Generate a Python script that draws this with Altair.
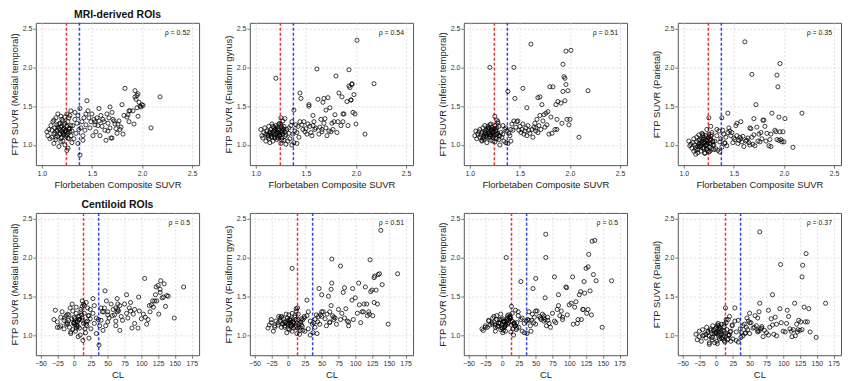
import altair as alt
import pandas as pd

# ---- per-subject data: Florbetaben composite SUVR, Centiloid, and FTP SUVR in four ROIs ----
suvr = [2.18, 2.09, 2.01, 1.96, 1.93, 1.94, 1.61, 1.20, 1.44, 1.80, 1.68, 1.38, 1.25, 1.53, 1.45,
        1.70, 1.72, 1.73, 1.74, 1.75, 1.76, 1.77, 1.78, 1.79, 1.81, 1.82, 1.83, 1.85, 1.86, 1.87,
        1.87, 1.88, 1.91, 1.92, 1.93, 1.95, 1.95, 1.96, 1.97, 1.98, 1.99, 2.00,
        1.46, 1.47, 1.48, 1.49, 1.50, 1.51, 1.52, 1.53, 1.54, 1.55, 1.56, 1.57, 1.58, 1.59, 1.60,
        1.62, 1.63, 1.64, 1.65, 1.66, 1.67, 1.68, 1.69, 1.70, 1.71, 1.66, 1.57,
        1.30, 1.31, 1.32, 1.33, 1.34, 1.35, 1.36, 1.37, 1.38, 1.39, 1.40, 1.41, 1.42, 1.43, 1.44,
        1.36, 1.33, 1.41,
        1.05, 1.06, 1.07, 1.08, 1.09, 1.10, 1.10, 1.11, 1.12, 1.12, 1.13, 1.13, 1.14, 1.14, 1.15,
        1.15, 1.16, 1.16, 1.17, 1.17, 1.18, 1.18, 1.19, 1.19, 1.20, 1.20, 1.21, 1.21, 1.22, 1.22,
        1.23, 1.23, 1.24, 1.24, 1.25, 1.25, 1.26, 1.26, 1.27, 1.27, 1.28, 1.28, 1.29, 1.29, 1.30,
        1.18, 1.15, 1.20, 1.22, 1.24, 1.26, 1.17, 1.19, 1.21, 1.23, 1.25, 1.27, 1.16, 1.14, 1.12,
        1.28, 1.29, 1.27, 1.23, 1.19, 1.26, 1.22, 1.21]
centiloid = [163, 149, 138, 134, 129, 128, 65, 6, 65, 78, 96, 28, 14, 50, 46,
             95, 84, 88, 100, 90, 103, 97, 110, 106, 108, 112, 105, 118, 115, 120,
             113, 117, 123, 126, 122, 131, 125, 136, 128, 140, 133, 121,
             48, 40, 52, 44, 55, 47, 58, 60, 50, 62, 57, 66, 62, 68, 70,
             64, 72, 68, 75, 78, 82, 80, 86, 84, 90, 62, 64,
             20, 22, 25, 24, 30, 28, 33, 36, 37, 33, 42, 38, 45, 40, 50,
             30, 18, 43,
             -25, -20, -30, -15, -12, -22, -8, -18, -10, -5, -14, 0, -6, -2, 2,
             -8, 4, -3, 1, 6, -1, 3, 8, 0, 5, 10, 2, 7, 4, 11,
             9, 3, 12, 6, 13, 8, 14, 10, 16, 12, 18, 15, 19, 21, 17,
             -12, -15, -7, -4, 0, 3, -10, -5, -2, 5, 1, 8, -20, -25, -28,
             24, 12, 20, 15, 12, 22, 18, -10]
mesial = [1.62, 1.22, 1.51, 1.66, 1.70, 1.59, 1.33, 1.24, 1.40, 1.52, 1.49, 1.47, 1.40, 1.30, 1.57,
          1.09, 1.31, 1.27, 1.21, 1.15, 1.27, 1.31, 1.20, 1.23, 1.14, 1.38, 1.73, 1.36, 1.39, 1.44,
          1.30, 1.44, 1.44, 1.27, 1.62, 1.48, 1.64, 1.37, 1.55, 1.50, 1.49, 1.52,
          1.44, 1.35, 1.22, 1.30, 1.40, 1.12, 1.33, 1.26, 1.17, 1.35, 1.25, 1.31, 1.12, 1.38, 1.24,
          1.30, 1.19, 1.06, 1.40, 1.28, 1.35, 1.22, 1.09, 1.42, 1.33, 1.18, 1.47,
          1.18, 1.25, 1.08, 1.33, 1.15, 1.28, 1.02, 1.20, 0.87, 1.22, 1.30, 1.12, 1.35, 1.19, 1.26,
          1.38, 1.42, 1.06,
          1.17, 1.12, 1.20, 1.08, 1.25, 1.10, 1.19, 1.30, 1.14, 1.02, 1.22, 1.16, 1.35, 1.07, 1.18,
          1.26, 1.11, 1.40, 1.21, 0.98, 1.15, 1.28, 1.09, 1.23, 1.17, 1.33, 1.05, 1.20, 1.13, 1.26,
          1.00, 1.36, 1.19, 1.11, 0.93, 1.24, 1.15, 1.30, 1.08, 1.22, 1.17, 1.38, 1.12, 1.25, 1.03,
          1.14, 1.19, 1.10, 1.21, 1.16, 1.09, 1.27, 1.04, 1.31, 1.18, 1.13, 1.20, 1.23, 1.10, 1.32,
          1.21, 1.44, 1.35, 1.28, 1.37, 0.96, 1.14, 1.16]
fusiform = [1.79, 1.14, 2.35, 1.78, 1.76, 1.74, 1.98, 1.86, 1.67, 1.89, 1.60, 1.45, 1.35, 1.52, 1.60,
            1.45, 1.61, 1.18, 1.48, 1.17, 1.28, 1.20, 1.30, 1.39, 1.16, 1.30, 1.67, 1.25, 1.62, 1.30,
            1.40, 1.40, 1.56, 1.25, 1.97, 1.58, 1.58, 1.79, 1.42, 1.65, 1.40, 1.27,
            1.26, 1.20, 1.30, 1.17, 1.21, 1.14, 1.27, 1.50, 1.24, 1.16, 1.12, 1.25, 1.30, 1.20, 1.22,
            1.59, 1.14, 1.23, 1.33, 1.20, 1.55, 1.28, 1.34, 1.22, 1.12, 1.17, 1.38,
            1.13, 1.20, 1.05, 1.22, 1.08, 1.25, 1.00, 1.14, 1.03, 1.18, 1.26, 1.16, 1.24, 1.10, 1.30,
            1.30, 1.15, 1.02,
            1.20, 1.12, 1.09, 1.16, 1.22, 1.05, 1.14, 1.18, 1.10, 1.12, 1.24, 1.08, 1.17, 1.03, 1.20,
            1.15, 1.11, 1.27, 1.16, 1.05, 1.22, 1.13, 1.09, 1.19, 1.14, 1.25, 1.07, 1.17, 1.21, 1.10,
            1.15, 1.19, 1.12, 1.28, 1.02, 1.16, 1.09, 1.23, 1.14, 1.31, 1.06, 1.20, 1.17, 1.11, 1.01,
            1.18, 1.13, 1.21, 1.16, 1.13, 1.19, 1.24, 1.10, 1.15, 1.12, 1.26, 1.17, 1.10, 1.16, 1.13,
            1.24, 1.34, 1.21, 1.27, 1.20, 1.06, 1.09, 1.23]
inferior = [1.70, 1.10, 2.22, 2.21, 2.04, 1.88, 2.30, 2.00, 2.00, 1.75, 1.61, 1.69, 1.37, 1.73, 1.60,
            1.62, 1.52, 1.31, 1.39, 1.23, 1.41, 1.26, 1.43, 1.14, 1.36, 1.15, 1.75, 1.20, 1.52, 1.33,
            1.20, 1.56, 1.54, 1.28, 1.69, 1.57, 1.86, 1.78, 1.33, 1.70, 1.26, 1.33,
            1.23, 1.30, 1.31, 1.19, 1.24, 1.16, 1.20, 1.27, 1.14, 1.18, 1.22, 1.12, 1.25, 1.19, 1.15,
            1.20, 1.10, 1.23, 1.28, 1.18, 1.33, 1.16, 1.25, 1.38, 1.20, 1.22, 1.48,
            1.12, 1.16, 1.10, 1.25, 1.05, 1.20, 1.03, 1.18, 1.02, 1.15, 1.12, 1.20, 1.27, 1.19, 1.31,
            1.22, 1.14, 1.05,
            1.12, 1.18, 1.08, 1.14, 1.17, 1.10, 1.20, 1.13, 1.05, 1.16, 1.22, 1.09, 1.12, 1.07, 1.18,
            1.25, 1.11, 1.15, 1.03, 1.13, 1.20, 1.17, 1.22, 1.09, 1.14, 1.26, 1.06, 1.19, 1.12, 1.23,
            1.16, 1.10, 1.21, 1.17, 1.04, 1.25, 1.13, 1.19, 1.08, 1.22, 1.15, 1.28, 1.12, 1.07, 1.00,
            1.24, 1.16, 1.11, 1.20, 1.13, 1.18, 1.10, 1.15, 1.27, 1.05, 1.21, 1.14, 1.19, 1.10, 1.06,
            1.30, 1.24, 1.32, 1.18, 1.22, 1.09, 1.16, 1.13]
parietal = [1.41, 0.97, 1.34, 2.05, 1.90, 1.75, 2.33, 1.07, 1.41, 1.32, 1.91, 1.35, 1.35, 1.28, 1.22,
            1.34, 1.52, 1.23, 1.05, 1.14, 1.04, 1.16, 1.08, 1.32, 1.24, 1.05, 1.15, 0.99, 1.07, 1.14,
            0.98, 1.41, 1.19, 1.17, 1.07, 1.36, 1.06, 1.17, 1.07, 1.04, 1.17, 1.04,
            1.18, 1.12, 1.16, 1.03, 1.09, 1.07, 1.25, 1.12, 1.02, 1.06, 1.10, 1.08, 1.04, 1.11, 0.98,
            1.05, 1.06, 1.09, 1.03, 1.00, 1.21, 1.10, 1.01, 1.13, 0.99, 1.22, 1.30,
            1.00, 1.05, 0.95, 1.12, 0.93, 1.18, 0.91, 1.08, 0.97, 1.19, 1.14, 1.03, 1.10, 0.99, 1.16,
            1.04, 1.20, 1.02,
            1.05, 0.99, 1.01, 0.96, 1.03, 0.92, 1.08, 1.00, 0.88, 0.97, 1.10, 1.04, 0.94, 0.90, 1.13,
            1.06, 0.98, 1.02, 0.92, 1.00, 1.08, 1.15, 0.96, 1.03, 1.10, 0.95, 0.89, 1.04, 1.12, 0.99,
            1.06, 1.01, 0.93, 1.09, 0.91, 1.14, 1.02, 0.97, 1.07, 1.11, 0.95, 1.16, 1.00, 1.04, 0.94,
            1.05, 1.01, 0.97, 1.06, 1.02, 1.08, 0.99, 1.12, 1.03, 0.95, 1.10, 1.01, 1.07, 0.98, 0.94,
            1.13, 1.05, 1.24, 1.20, 1.14, 0.92, 1.00, 0.90]

roi_fields = ["mesial", "fusiform", "inferior", "parietal"]
roi_titles = ["FTP SUVR (Mesial temporal)", "FTP SUVR (Fusiform gyrus)",
              "FTP SUVR (Inferior temporal)", "FTP SUVR (Parietal)"]
rho_mri = ["ρ = 0.52", "ρ = 0.54", "ρ = 0.51", "ρ = 0.35"]
rho_cl = ["ρ = 0.5", "ρ = 0.51", "ρ = 0.5", "ρ = 0.37"]
row_titles = ["MRI-derived ROIs", "Centiloid ROIs"]

suvr_cutoffs = [1.245, 1.375]
cl_cutoffs = [14, 36.5]
cutoff_colors = ["#ee3333", "#3344dd"]

suvr_ticks = [1.0, 1.5, 2.0, 2.5]
cl_ticks = [-50, -25, 0, 25, 50, 75, 100, 125, 150, 175]
y_ticks = [1.0, 1.5, 2.0, 2.5]

df = pd.DataFrame({"suvr": suvr, "cl": centiloid, "mesial": mesial,
                   "fusiform": fusiform, "inferior": inferior, "parietal": parietal})

W, H = 164, 143
FONT = "Liberation Sans"


def panel(xfield, xdomain, xticks, xfmt, xtitle, cutoffs, yfield, ytitle, rho, title):
    xs = alt.Scale(domain=xdomain, nice=False, zero=False)
    ys = alt.Scale(domain=[0.74, 2.575], nice=False, zero=False)
    xax = alt.Axis(values=xticks, format=xfmt, title=xtitle)
    yax = alt.Axis(values=y_ticks, format=".1f", title=ytitle)
    pts = alt.Chart(df).mark_point(shape="circle", filled=False, color="black",
                                   size=17, strokeWidth=0.75, opacity=1).encode(
        x=alt.X(f"{xfield}:Q", scale=xs, axis=xax),
        y=alt.Y(f"{yfield}:Q", scale=ys, axis=yax),
    )
    rules = [
        alt.Chart(pd.DataFrame({xfield: [cut]})).mark_rule(
            strokeDash=[3, 2], strokeWidth=1.5, color=col, opacity=1).encode(
            x=alt.X(f"{xfield}:Q", scale=xs, axis=xax))
        for cut, col in zip(cutoffs, cutoff_colors)
    ]
    txt = alt.Chart(pd.DataFrame({"t": [rho]})).mark_text(
        align="right", baseline="middle", fontSize=7, font=FONT, color="#222").encode(
        text="t:N", x=alt.value(W - 9), y=alt.value(10))
    return alt.layer(*rules, pts, txt).properties(
        width=W, height=H,
        title=alt.TitleParams(title, fontSize=10.5, fontWeight="bold", font=FONT,
                              anchor="middle", offset=2, color="#111"))


row1 = alt.hconcat(*[
    panel("suvr", [0.94, 2.57], suvr_ticks, ".1f", "Florbetaben Composite SUVR", suvr_cutoffs,
          f, t, r, row_titles[0] if i == 0 else " ")
    for i, (f, t, r) in enumerate(zip(roi_fields, roi_titles, rho_mri))
], spacing=22)
row2 = alt.hconcat(*[
    panel("cl", [-57, 186], cl_ticks, "d", "CL", cl_cutoffs,
          f, t, r, row_titles[1] if i == 0 else " ")
    for i, (f, t, r) in enumerate(zip(roi_fields, roi_titles, rho_cl))
], spacing=22)

chart = alt.vconcat(row1, row2, spacing=10).properties(padding=0).configure_view(
    stroke="#555", strokeWidth=1
).configure_axis(
    labelFont=FONT, titleFont=FONT, labelFontSize=7, titleFontSize=9.5,
    labelColor="#333", titleColor="#222", titleFontWeight="normal",
    tickSize=3, tickColor="#555", tickWidth=0.8, domain=False,
    grid=True, gridColor="#d8d8d8", gridDash=[2, 2], gridWidth=0.8,
    labelPadding=1, titlePadding=3, labelOverlap=False
)

chart.save("out.html", embed_options={"renderer": "svg", "actions": False})
